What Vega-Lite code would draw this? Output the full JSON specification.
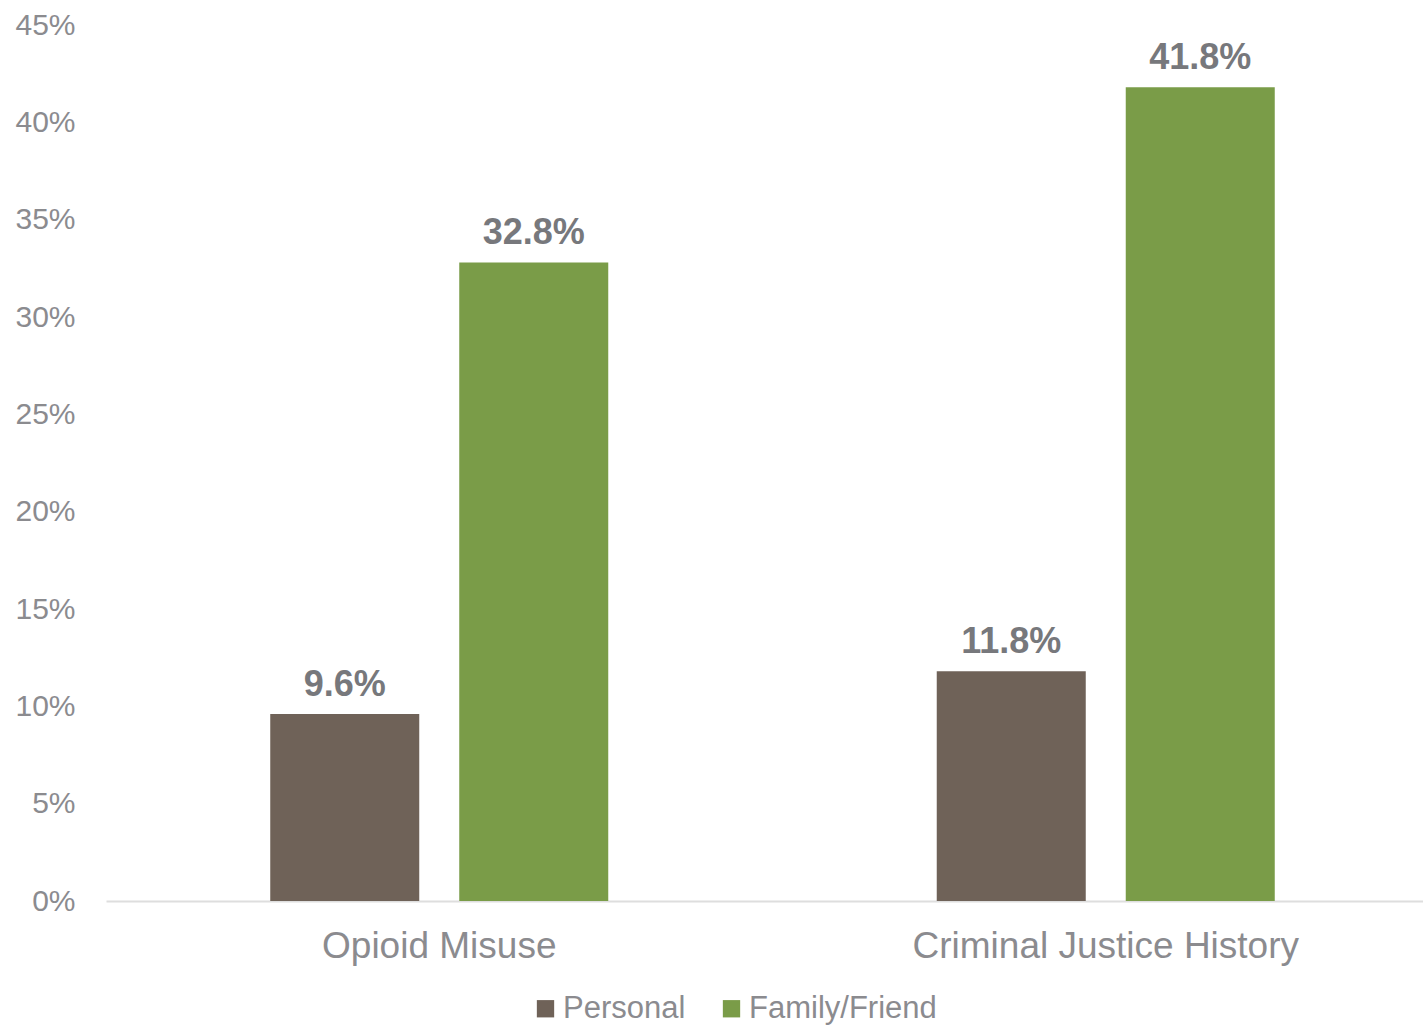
{
  "$schema": "https://vega.github.io/schema/vega-lite/v6.json",
  "autosize": {"type": "none"},
  "width": 1317,
  "height": 876,
  "padding": {"left": 106, "top": 25, "right": 0, "bottom": 124},
  "background": "white",
  "config": {
    "view": {"stroke": null},
    "font": "Liberation Sans",
    "axis": {"grid": false, "ticks": false, "labelFont": "Liberation Sans", "labelColor": "#8b8b8f", "title": null, "labelLimit": 0}
  },
  "data": {
    "values": [
      {"category": "Opioid Misuse", "group": "Personal", "value": 0.096},
      {"category": "Opioid Misuse", "group": "Family/Friend", "value": 0.328},
      {"category": "Criminal Justice History", "group": "Personal", "value": 0.118},
      {"category": "Criminal Justice History", "group": "Family/Friend", "value": 0.418}
    ]
  },
  "encoding": {
    "x": {
      "field": "category", "type": "nominal",
      "sort": ["Opioid Misuse", "Criminal Justice History"],
      "scale": {"range": [0, 1333], "paddingInner": 0, "paddingOuter": 0},
      "axis": {"labelAngle": 0, "labelFontSize": 37, "labelPadding": 27, "domainColor": "#dedede", "domainWidth": 2, "labelLimit": 0}
    },
    "xOffset": {
      "field": "group", "type": "nominal",
      "sort": ["Personal", "Family/Friend"],
      "scale": {"paddingInner": 0.2116, "paddingOuter": 0.869}
    },
    "y": {
      "field": "value", "type": "quantitative",
      "scale": {"domain": [0, 0.45], "nice": false},
      "axis": {"values": [0, 0.05, 0.1, 0.15, 0.2, 0.25, 0.3, 0.35, 0.4, 0.45], "format": ".0%", "labelFontSize": 30, "labelPadding": 31, "domain": false}
    }
  },
  "layer": [
    {
      "mark": {"type": "bar"},
      "encoding": {
        "color": {
          "field": "group", "type": "nominal",
          "sort": ["Personal", "Family/Friend"],
          "scale": {"domain": ["Personal", "Family/Friend"], "range": ["#6f6258", "#7a9c48"]},
          "legend": {
            "title": null, "orient": "none", "direction": "horizontal",
            "legendX": 424, "legendY": 968,
            "symbolType": "square", "symbolSize": 300, "symbolStrokeWidth": 0,
            "labelFontSize": 31, "labelColor": "#8b8b8f", "labelFont": "Liberation Sans",
            "labelOffset": 2, "columnPadding": 30, "labelLimit": 0
          }
        }
      }
    },
    {
      "mark": {"type": "text", "baseline": "alphabetic", "dy": -18, "fontSize": 36, "fontWeight": "bold", "color": "#77787c", "font": "Liberation Sans"},
      "encoding": {
        "text": {"field": "value", "type": "quantitative", "format": ".1%"}
      }
    }
  ]
}
